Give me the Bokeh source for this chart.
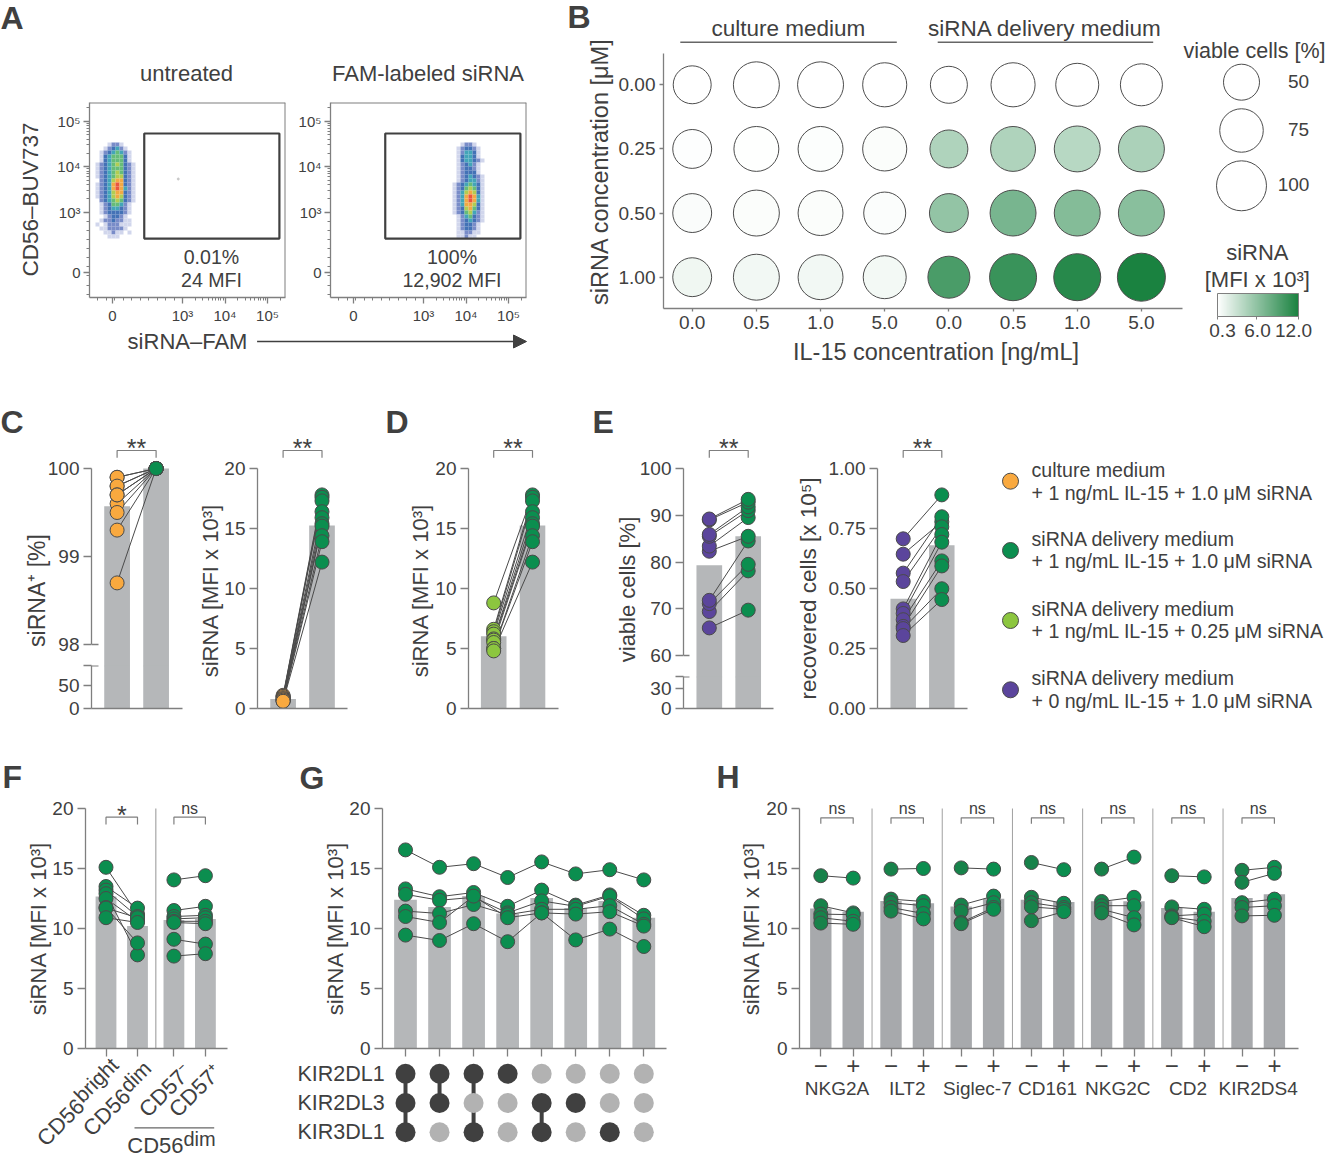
"""
Multi-panel siRNA uptake figure (A-H) drawn with Bokeh.
Each panel is its own figure, pinned on the page by the pixel position of its frame.
"""

from math import log10, sqrt

from bokeh.core.properties import value
from bokeh.embed import file_html
from bokeh.layouts import column
from bokeh.models import (Arrow, ColorBar, ColumnDataSource, FixedTicker, Label,
                          LinearColorMapper, NormalHead, Range1d)
from bokeh.plotting import figure
from bokeh.resources import INLINE
from bokeh.transform import transform

# ---- panel A: flow plots, density (0 = empty, 8 = densest)
flow_ticks = [1.68, 3, 4, 5]
flow_tick_labels = ["0", "10³", "10⁴", "10⁵"]
flow_x_ticks = [1.35, 3, 4, 5]
untreated_density = [
    "0001221000", "0012342100", "0123454210", "0134555310", "0134555310", "1234565321",
    "1234555321", "1234565321", "1234566321", "0234677321", "1234787321", "1234787421",
    "1234677321", "1234676321", "0234565321", "0123554210", "0123443210", "0123333210",
    "0012332100", "0122322110", "1012221110", "0112222100", "0011211010", "0001110000",
]
fam_density = [
    "0001221000", "0012332100", "0012443100", "0013443100", "0013443210", "0012342100",
    "0012332100", "0012333100", "0012343210", "0012344210", "0123454310", "0123565310",
    "0124676310", "0124787410", "0124787410", "0124776310", "0123675310", "0123564210",
    "0012453210", "0012343210", "0012332100", "0012332100", "0011221100", "0011211000",
]
density_colors = [None, "#ccd2ea", "#6a80c2", "#2f63ae", "#2f9bb0", "#55b56a", "#a8c83f", "#f0a030", "#e8432a"]

# ---- panel B
il15_labels = ["0.0", "0.5", "1.0", "5.0", "0.0", "0.5", "1.0", "5.0"]
sirna_labels = ["0.00", "0.25", "0.50", "1.00"]
viable = [
    [56, 84, 84, 77, 53, 77, 73, 69.5],
    [59, 80, 80, 77, 56, 80, 84, 84],
    [59, 84, 80, 69.5, 59, 84, 84, 84],
    [59, 84, 80, 73, 69.5, 88, 88, 92],
]
mfi = [
    [0.3, 0.3, 0.3, 0.3, 0.3, 0.3, 0.3, 0.3],
    [0.4, 0.35, 0.45, 0.55, 4.4, 4.4, 4.0, 4.6],
    [0.6, 0.55, 0.55, 0.5, 5.8, 7.2, 6.6, 6.3],
    [1.1, 1.0, 1.0, 0.9, 9.5, 10.4, 11.3, 12.0],
]
viable_legend = [50, 75, 100]

# ---- panels C, D, E (paired donors)
c_pos_culture = [99.8, 99.6, 99.9, 99.9, 99.8, 99.7, 99.7, 99.5, 99.3, 98.7]
c_pos_delivery = [100.0] * 10
c_mfi_delivery = [17.8, 17.6, 17.3, 16.4, 15.9, 15.4, 15.2, 14.4, 13.9, 12.2]
c_mfi_culture = [1.1, 1.0, 1.0, 0.9, 0.8, 0.8, 0.7, 0.7, 0.6, 0.6]
d_low_sirna = [8.8, 6.6, 6.4, 6.2, 5.8, 5.7, 5.5, 5.0, 5.0, 4.8]
e_viable_il0 = [65.9, 69.4, 71.1, 71.8, 82.3, 83.4, 85.5, 85.9, 89.0, 89.2]
e_viable_il1 = [69.7, 78.1, 79.5, 84.5, 85.5, 89.5, 91.0, 91.8, 92.8, 93.4]
e_recovered_il0 = [0.707, 0.643, 0.564, 0.529, 0.415, 0.396, 0.37, 0.342, 0.333, 0.304]
e_recovered_il1 = [0.89, 0.778, 0.799, 0.757, 0.725, 0.693, 0.615, 0.594, 0.499, 0.454]
legend_labels = [
    ("culture medium", "+ 1 ng/mL IL-15 + 1.0 μM siRNA"),
    ("siRNA delivery medium", "+ 1 ng/mL IL-15 + 1.0 μM siRNA"),
    ("siRNA delivery medium", "+ 1 ng/mL IL-15 + 0.25 μM siRNA"),
    ("siRNA delivery medium", "+ 0 ng/mL IL-15 + 1.0 μM siRNA"),
]

# ---- panel F
f_bars = [12.67, 10.2, 10.7, 10.8]
f_bright = [15.1, 13.5, 13.2, 12.9, 12.5, 11.75, 11.7, 10.9]
f_dim = [11.2, 11.7, 11.0, 7.8, 10.6, 8.8, 10.9, 10.5]
f_cd57_neg = [14.05, 11.5, 11.0, 10.8, 10.6, 10.5, 9.1, 7.7]
f_cd57_pos = [14.4, 11.85, 11.1, 10.9, 10.6, 10.4, 8.7, 7.9]

# ---- panel G
g_bars = [12.4, 11.8, 12.7, 11.25, 12.55, 11.7, 12.3, 10.9]
g_donors = [
    [16.55, 15.1, 15.4, 14.25, 15.55, 14.55, 14.9, 14.05],
    [13.3, 12.65, 13.0, 11.85, 13.2, 11.95, 12.8, 11.1],
    [12.85, 12.35, 12.6, 11.3, 12.3, 11.85, 12.7, 10.8],
    [11.45, 11.25, 12.0, 11.15, 11.6, 11.6, 11.9, 10.35],
    [11.0, 10.5, 12.7, 10.9, 11.3, 11.2, 11.4, 10.2],
    [9.45, 9.0, 10.4, 8.9, 11.3, 9.05, 9.95, 8.5],
]
kir_names = ["KIR2DL1", "KIR2DL3", "KIR3DL1"]
kir_membership = [
    [1, 1, 1, 1, 0, 0, 0, 0],
    [1, 1, 0, 0, 1, 1, 0, 0],
    [1, 0, 1, 0, 1, 0, 1, 0],
]

# ---- panel H
h_groups = ["NKG2A", "ILT2", "Siglec-7", "CD161", "NKG2C", "CD2", "KIR2DS4"]
h_bars_neg = [11.67, 12.3, 11.83, 12.4, 12.27, 11.7, 12.55]
h_bars_pos = [11.4, 12.1, 12.47, 12.2, 12.27, 11.4, 12.85]
h_neg = [
    [14.4, 11.9, 11.2, 10.9, 10.45],
    [14.95, 12.45, 12.15, 11.75, 11.45],
    [15.05, 11.95, 11.45, 10.5, 10.4],
    [15.5, 12.6, 12.15, 11.8, 10.65],
    [14.95, 12.25, 11.9, 11.6, 11.3],
    [14.4, 11.8, 11.05, 10.95, 10.9],
    [14.85, 13.85, 12.15, 11.75, 11.05],
]
h_pos = [
    [14.2, 11.3, 11.15, 10.6, 10.35],
    [15.0, 12.25, 11.9, 11.25, 10.8],
    [14.95, 12.7, 12.15, 11.75, 11.6],
    [14.9, 12.1, 11.75, 11.6, 11.4],
    [15.95, 12.6, 11.9, 10.9, 10.3],
    [14.3, 11.6, 11.2, 10.6, 10.15],
    [15.1, 14.6, 12.45, 11.9, 11.1],
]

FONT = "Liberation Sans"
TEXT = "#404040"
AXIS = "#7f7f7f"
BAR = "#b5b7b9"
BAR_DARK = "#a7a9ac"
MARK_LINE = "#4a4a4a"
ORANGE = "#f9a93f"
GREEN = "#0b8e4f"
GREEN_H = "#17824a"
LIME = "#8cc63f"
PURPLE = "#5b459c"

panels = []


def panel(x0, x1, y0, y1, xcal, ycal, pad_left=70, pad_bottom=40):
    """Figure whose frame sits at page pixels x0..x1, y0..y1; xcal/ycal tie two pixels to two data values."""
    x0, x1, y0, y1 = round(x0), round(x1), round(y0), round(y1)
    pad_right, pad_top = 8, 6

    def solve(cal, a, b):
        (pa, va), (pb, vb) = cal
        k = (vb - va) / (pb - pa)
        return va + (a - pa) * k, va + (b - pa) * k

    xs, xe = solve(xcal, x0, x1)
    ys, ye = solve(ycal, y1, y0)
    p = figure(
        width=x1 - x0 + pad_left + pad_right, height=y1 - y0 + pad_top + pad_bottom,
        x_range=Range1d(xs, xe), y_range=Range1d(ys, ye),
        min_border_left=pad_left, min_border_right=pad_right,
        min_border_top=pad_top, min_border_bottom=pad_bottom,
        output_backend="svg", toolbar_location=None,
        background_fill_color=None, border_fill_color=None, outline_line_color=None,
        styles={"position": "absolute", "left": f"{x0 - pad_left}px", "top": f"{y0 - pad_top}px"},
    )
    p.grid.visible = False
    p.tags = [y0, y1]
    for ax in (p.xaxis[0], p.yaxis[0]):
        ax.axis_line_color = AXIS
        ax.axis_line_width = 1.3
        ax.major_tick_line_color = AXIS
        ax.major_tick_line_width = 1.3
        ax.major_tick_in = 0
        ax.major_tick_out = 8
        ax.minor_tick_in = 0
        ax.minor_tick_out = 0
        ax.major_label_text_font = FONT
        ax.major_label_text_color = TEXT
        ax.major_label_text_font_size = "19px"
        ax.major_label_standoff = 4
    p.xaxis[0].ticker = FixedTicker(ticks=[])
    panels.append(p)
    return p


def ypx(p, py):
    """Data value of page pixel row py in panel p."""
    y0, y1 = p.tags
    return p.y_range.end + (py - y0) * (p.y_range.start - p.y_range.end) / (y1 - y0)


def y_axis(p, ticks, top, bottom=0, labels=None):
    ax = p.yaxis[0]
    ax.ticker = FixedTicker(ticks=ticks)
    ax.bounds = (bottom, top)
    if labels:
        ax.major_label_overrides = labels


def blank_x_labels(p, ticks):
    p.xaxis[0].ticker = FixedTicker(ticks=ticks)
    p.xaxis[0].major_label_overrides = {t: "" for t in ticks}


def bars(p, xs, tops, width, color=BAR):
    p.vbar(x=xs, top=tops, bottom=0, width=width, fill_color=color, line_color=None)


def dots(p, xs, ys, color, size=14):
    p.scatter(xs, ys, size=size, fill_color=color, line_color=MARK_LINE, line_width=1)


def paired(p, xa, xb, a, b, color_a, color_b=GREEN, size=14):
    p.multi_line([[xa, xb] for _ in a], [[u, v] for u, v in zip(a, b)], line_color=MARK_LINE, line_width=1)
    dots(p, [xa] * len(a), a, color_a, size)
    dots(p, [xb] * len(b), b, color_b, size)


def bracket(p, xa, xb, text, py_top, py_bot, py_text, size):
    top, bot = ypx(p, py_top), ypx(p, py_bot)
    p.line([xa, xa, xb, xb], [bot, top, top, bot], line_color=AXIS, line_width=1.2)
    p.text([(xa + xb) / 2], [ypx(p, py_text)], text=[text], text_font=value(FONT), text_color=TEXT,
           text_font_size=value(size), text_align="center", text_baseline="middle")


def stars(p, xa, xb, text="**"):
    bracket(p, xa, xb, text, 450, 457.3, 447, "25px")


# ---- panel A
def flow_panel(x0, density, grid_x0, gate_x0=2.10):
    p = panel(x0, x0 + 196, 101.7, 297.3, ((x0 + 93, 3), (x0 + 178, 5)), ((211.7, 3), (120.7, 5)))
    outline_x = [p.x_range.start, p.x_range.end]
    minor = [d + log10(m) for d in (3, 4, 5) for m in range(2, 10) if d + log10(m) < 5.4]
    minor_low = [1.0 + i * 0.2 for i in range(10)]
    for ax, ticks, labels in ((p.xaxis[0], flow_x_ticks, flow_tick_labels), (p.yaxis[0], flow_ticks, flow_tick_labels)):
        ax.ticker = FixedTicker(ticks=ticks, minor_ticks=minor + minor_low)
        ax.major_label_overrides = dict(zip(ticks, labels))
        ax.major_tick_out = 6
        ax.minor_tick_out = 3
        ax.minor_tick_line_color = AXIS
        ax.major_label_text_font_size = "15px"
        ax.major_label_standoff = 3
    p.line(outline_x, [p.y_range.end] * 2, line_color=AXIS, line_width=2)
    p.line([p.x_range.end] * 2, [p.y_range.start, p.y_range.end], line_color=AXIS, line_width=2)
    cell_x, cell_y = 4 / 42.5, 4 / 45.5
    left, right, top, bottom, color = [], [], [], [], []
    for r, row in enumerate(density):
        for c, level in enumerate(row):
            if level != "0":
                left.append(grid_x0 + c * cell_x)
                right.append(grid_x0 + (c + 1) * cell_x)
                top.append(4.532 - r * cell_y)
                bottom.append(4.532 - (r + 1) * cell_y)
                color.append(density_colors[int(level)])
    p.quad(left=left, right=right, top=top, bottom=bottom, fill_color=color, line_color=None, fill_alpha=0.9)
    p.quad(left=[gate_x0], right=[5.28], top=[4.73], bottom=[2.42], fill_color=None,
           line_color="#404040", line_width=2.2)
    return p


a1 = flow_panel(89, untreated_density, 0.953)
a1.scatter([2.9], [3.73], size=2, color="#c8c8c8")
a2 = flow_panel(330, fam_density, 3.588)

# ---- panel B
b = panel(662.6, 1182, 53, 308, ((691.7, 0), (1140.9, 7)), ((84.3, 0), (276.7, 3)))
green_ramp = []
for i in range(256):
    f = i / 255
    green_ramp.append("#%02x%02x%02x" % (round(255 + (26 - 255) * f), round(255 + (130 - 255) * f), round(255 + (64 - 255) * f)))
mfi_mapper = LinearColorMapper(palette=green_ramp, low=0.3, high=12)


def viable_size(v):
    return sqrt(96 + 24 * v)


b_source = ColumnDataSource(data={
    "col": [c for _ in sirna_labels for c in range(8)],
    "row": [3 - r for r in range(4) for _ in range(8)],
    "size": [viable_size(v) for row in viable for v in row],
    "mfi": [m for row in mfi for m in row],
})
b.y_range.start, b.y_range.end = 3 - b.y_range.start, 3 - b.y_range.end
b.scatter("col", "row", size="size", source=b_source, fill_color=transform("mfi", mfi_mapper),
          line_color="#4d4d4d", line_width=1)
b.xaxis[0].ticker = FixedTicker(ticks=list(range(8)))
b.xaxis[0].major_label_overrides = dict(enumerate(il15_labels))
b.xaxis[0].major_tick_out = 3
b.yaxis[0].ticker = FixedTicker(ticks=list(range(4)))
b.yaxis[0].major_label_overrides = {3 - i: s for i, s in enumerate(sirna_labels)}
b.yaxis[0].major_tick_out = 4

cb_fig = panel(1217, 1298, 293, 316, ((1217, 0), (1298, 1)), ((293, 1), (316, 0)))
cb_fig.xaxis.visible = False
cb_fig.yaxis.visible = False
color_bar = ColorBar(color_mapper=mfi_mapper, ticker=FixedTicker(ticks=[0.3, 6, 12]),
                     major_label_overrides={0.3: "", 6: "", 12: ""},
                     major_label_text_font=FONT, major_label_text_font_size="19px",
                     major_label_text_color=TEXT, major_tick_line_color=AXIS, major_tick_in=0, major_tick_out=3,
                     bar_line_color=AXIS, label_standoff=0, padding=0, margin=0, width=81, height=23,
                     background_fill_color=None, border_line_color=None,
                     orientation="horizontal", location="top_left")
cb_fig.add_layout(color_bar, "center")

# ---- panel C, left one has a broken axis
c_x = ((116.6, 0), (155.6, 1))
c_tops = [99.57, 100]
c1_top = panel(90.6, 181.6, 430, 666, c_x, ((468, 100), (644, 98)))
y_axis(c1_top, [98, 99, 100], 100, bottom=98)
bars(c1_top, [0, 1], c_tops, 0.66)
c1_top.segment([c1_top.x_range.start], [98], [c1_top.x_range.start + 7 / 39], [98], line_color=AXIS, line_width=1.3)
c1_top.xaxis.visible = False
paired(c1_top, 0, 1, c_pos_culture, c_pos_delivery, ORANGE)
stars(c1_top, 0, 1)
c1_bot = panel(90.6, 181.6, 665, 708, c_x, ((708, 0), (685, 50)))
c1_break = c1_bot.y_range.end
y_axis(c1_bot, [0, 50, c1_break], c1_break, labels={c1_break: ""})
bars(c1_bot, [0, 1], c_tops, 0.66)
c1_bot.segment([c1_bot.x_range.start], [c1_break], [c1_bot.x_range.start + 7 / 39], [c1_break],
               line_color=AXIS, line_width=2)

mfi_y = ((708, 0), (468, 20))
c2 = panel(256.8, 347, 430, 708, ((282.6, 0), (321.5, 1)), mfi_y)
y_axis(c2, [0, 5, 10, 15, 20], 20)
bars(c2, [0, 1], [0.8, 15.25], 0.66)
paired(c2, 0, 1, c_mfi_culture, c_mfi_delivery, ORANGE)
stars(c2, 0, 1)

d = panel(468, 558, 430, 708, ((493.2, 0), (532, 1)), mfi_y)
y_axis(d, [0, 5, 10, 15, 20], 20)
bars(d, [0, 1], [6.03, 15.25], 0.66)
paired(d, 0, 1, d_low_sirna, c_mfi_delivery, LIME)
stars(d, 0, 1)

# ---- panel E, left one has a broken axis as well
e_x = ((708.8, 0), (747.7, 1))
e_tops = [79.3, 85.5]
e1_top = panel(683.3, 773.3, 430, 677, e_x, ((468, 100), (655, 60)))
y_axis(e1_top, [60, 70, 80, 90, 100], 100, bottom=60)
bars(e1_top, [0, 1], e_tops, 0.66)
e1_top.segment([e1_top.x_range.start], [60], [e1_top.x_range.start + 6 / 39], [60], line_color=AXIS, line_width=1.3)
e1_top.xaxis.visible = False
paired(e1_top, 0, 1, e_viable_il0, e_viable_il1, PURPLE)
stars(e1_top, 0, 1)
e1_bot = panel(683.3, 773.3, 676, 708, e_x, ((708, 0), (688, 30)))
e1_break = e1_bot.y_range.end
y_axis(e1_bot, [0, 30, e1_break], e1_break, labels={e1_break: ""})
bars(e1_bot, [0, 1], e_tops, 0.66)
e1_bot.segment([e1_bot.x_range.start], [e1_break], [e1_bot.x_range.start + 6 / 39], [e1_break],
               line_color=AXIS, line_width=2)

e2 = panel(877, 967, 430, 708, ((902.7, 0), (941.3, 1)), ((708, 0), (468, 1)))
y_axis(e2, [0, 0.25, 0.5, 0.75, 1], 1, labels={0: "0.00", 0.25: "0.25", 0.5: "0.50", 0.75: "0.75", 1: "1.00"})
bars(e2, [0, 1], [0.457, 0.68], 0.66)
paired(e2, 0, 1, e_recovered_il0, e_recovered_il1, PURPLE)
stars(e2, 0, 1)

# ---- panel F
f_xs = [0, 1, 2.156, 3.156]
lower_y = ((1048, 0), (808, 20))
f = panel(85, 226.7, 785, 1048, ((105.5, 0), (137, 1)), lower_y, pad_bottom=20)
y_axis(f, [0, 5, 10, 15, 20], 20)
blank_x_labels(f, f_xs)
bars(f, f_xs, f_bars, 0.66)
f.segment([1.58], [0], [1.58], [20], line_color="#b8b8b8", line_width=1.5)
paired(f, 0, 1, f_bright, f_dim, GREEN)
paired(f, 2.156, 3.156, f_cd57_neg, f_cd57_pos, GREEN)
bracket(f, 0, 1, "*", 816.7, 824, 814, "25px")
bracket(f, 2.156, 3.156, "ns", 816.7, 824, 807.7, "16px")

# ---- panel G, with the KIR combination matrix below it
g_xs = list(range(8))
g = panel(382.3, 666, 785, 1048, ((405, 0), (643.3, 7)), lower_y, pad_bottom=20)
y_axis(g, [0, 5, 10, 15, 20], 20)
blank_x_labels(g, g_xs)
bars(g, g_xs, g_bars, 0.667)
g.multi_line([g_xs for _ in g_donors], g_donors, line_color=MARK_LINE, line_width=1)
for donor in g_donors:
    dots(g, g_xs, donor, GREEN)

matrix = panel(382.3, 666, 1056, 1148, ((405, 0), (643.3, 7)), ((1073.3, 2), (1131.7, 0)), pad_bottom=6)
matrix.xaxis.visible = False
matrix.yaxis.visible = False
for col in g_xs:
    rows = [r for r in range(3) if kir_membership[r][col]]
    if len(rows) > 1:
        matrix.line([col, col], [2 - min(rows), 2 - max(rows)], line_color="#404040", line_width=4)
for r, row in enumerate(kir_membership):
    matrix.scatter(g_xs, [2 - r] * 8, size=20, line_color=None,
                   fill_color=["#404040" if m else "#b2b2b2" for m in row])

# ---- panel H
h = panel(799, 1297.6, 785, 1048, ((820.3, 0), (852.7, 1)), lower_y)
y_axis(h, [0, 5, 10, 15, 20], 20)
h_step = 70.2 / 32.4
h_ticks = [v for i in range(7) for v in (i * h_step, i * h_step + 1)]
h.xaxis[0].ticker = FixedTicker(ticks=h_ticks)
h.xaxis[0].major_label_overrides = {v: ("−" if n % 2 == 0 else "+") for n, v in enumerate(h_ticks)}
h.xaxis[0].major_label_text_font_size = "24px"
h.xaxis[0].major_label_standoff = 0
bars(h, h_ticks, [v for pair in zip(h_bars_neg, h_bars_pos) for v in pair], 0.66, BAR_DARK)
for i in range(7):
    x = i * h_step
    if i:
        h.segment([x - 0.585], [0], [x - 0.585], [20], line_color="#a0a0a0", line_width=1)
    paired(h, x, x + 1, h_neg[i], h_pos[i], GREEN_H)
    bracket(h, x, x + 1, "ns", 817.3, 823.3, 807.7, "16px")

# ---- free text, legends and everything else that is laid out by page pixels
# the frame of this figure comes out 1317x1145 whatever its canvas, so the ranges follow that
page = figure(width=1317, height=1145, x_range=Range1d(0, 1317), y_range=Range1d(1145, 0),
              x_axis_location=None, y_axis_location=None,
              min_border_left=0, min_border_right=0, min_border_top=0, min_border_bottom=0,
              output_backend="svg", toolbar_location=None,
              background_fill_color=None, border_fill_color=None, outline_line_color=None)
page.grid.visible = False

# that canvas stops short of the right and bottom edges, so two small figures carry the text out there
# labels get cut at the frame, so these frames have to span all the text they hold
same_x = ((0, 0), (1333, 1333))
same_y = ((0, 0), (1161, 1161))
edge_right = panel(1030, 1325, 30, 720, same_x, same_y, pad_bottom=5)
edge_bottom = panel(25, 260, 1055, 1153, same_x, same_y, pad_bottom=8)
for edge in (edge_right, edge_bottom):
    edge.xaxis.visible = False
    edge.yaxis.visible = False


def txt(x, y, text, size=20, align="center", baseline="middle", angle=0, style="normal", fig=page):
    fig.add_layout(Label(x=x, y=y, text=text, text_font=FONT, text_font_size=f"{size}px", text_color=TEXT,
                         text_align=align, text_baseline=baseline, angle=angle, angle_units="deg",
                         text_font_style=style))


for letter, x, y in (("A", 0, 17), ("B", 567, 16), ("C", 0, 421), ("D", 385, 421), ("E", 592, 421),
                     ("F", 2, 776), ("G", 299, 777), ("H", 716, 776)):
    txt(x, y, letter, 32, align="left", style="bold")

# panel A
txt(186, 73.3, "untreated", 22)
txt(427.5, 73.3, "FAM-labeled siRNA", 22)
txt(30, 199, "CD56–BUV737", 22.5, angle=90)
txt(187, 340.7, "siRNA–FAM", 22)
txt(211, 256.7, "0.01%", 19.6)
txt(211, 279.3, "24 MFI", 19.6)
txt(451.5, 256.7, "100%", 19.6)
txt(451.5, 279.3, "12,902 MFI", 19.6)
page.add_layout(Arrow(x_start=256.6, y_start=341, x_end=526, y_end=341, line_color=TEXT, line_width=1.6,
                      end=NormalHead(size=13, fill_color=TEXT, line_color=TEXT)))

# panel B
txt(787.8, 28.3, "culture medium", 22.5)
txt(1044.5, 28.3, "siRNA delivery medium", 22.5)
page.line([679.8, 896.3], [41.7, 41.7], line_color="#666666", line_width=1.4)
page.line([937.2, 1152.7], [41.7, 41.7], line_color="#666666", line_width=1.4)
txt(599, 171, "siRNA concentration [μM]", 23.5, angle=90)
txt(935.5, 351.7, "IL-15 concentration [ng/mL]", 23.5)
txt(1254, 50.7, "viable cells [%]", 21.5, fig=edge_right)
page.scatter([1241, 1241, 1241], [81.7, 130, 185.3], size=[viable_size(v) for v in viable_legend],
             fill_color="white", line_color="#4d4d4d", line_width=1)
for v, x, y in zip(viable_legend, (1298, 1298, 1293), (80.7, 129.3, 184.3)):
    txt(x, y, str(v), 19)
txt(1256.8, 252.3, "siRNA", 22)
txt(1256.8, 279.3, "[MFI x 10³]", 22)
for s, x in (("0.3", 1222), ("6.0", 1257), ("12.0", 1293)):
    txt(x, 330, s, 19)

# y labels of C-H
txt(36.5, 590, "siRNA⁺ [%]", 23, angle=90)
txt(210, 590, "siRNA [MFI x 10³]", 22, angle=90)
txt(420, 590, "siRNA [MFI x 10³]", 22, angle=90)
txt(626.7, 589, "viable cells [%]", 22, angle=90)
txt(808, 588, "recovered cells [x 10⁵]", 22.5, angle=90)
txt(38, 928, "siRNA [MFI x 10³]", 22, angle=90)
txt(335, 928, "siRNA [MFI x 10³]", 22, angle=90)
txt(750.7, 928, "siRNA [MFI x 10³]", 22, angle=90)

# legend of C-E
for (line1, line2), color, y1, y2, ym in zip(legend_labels, (ORANGE, GREEN, LIME, PURPLE),
                                             (469, 538.3, 608, 677.7), (492.3, 560.7, 630, 700),
                                             (480.7, 550, 620, 689.3)):
    page.scatter([1010], [ym], size=16, fill_color=color, line_color=MARK_LINE, line_width=1)
    txt(1031, y1, line1, 19.6, align="left", fig=edge_right)
    txt(1031, y2, line2, 19.6, align="left", fig=edge_right)

# tick labels of F
for text, sup, x, y in (("CD56", "bright", 80, 1102), ("CD56", "dim", 126, 1092)):
    txt(x, y, text, 22, align="right", angle=45, fig=edge_bottom)
    txt(x - 3, y - 4, sup, 21, align="left", angle=45, fig=edge_bottom)
txt(187, 1068, "CD57⁻", 22, align="right", angle=45)
txt(217, 1068, "CD57⁺", 22, align="right", angle=45)
page.line([134, 213.7], [1127.3, 1127.3], line_color="#666666", line_width=1.2)
txt(183, 1145, "CD56", 22, align="right", fig=edge_bottom)
txt(183, 1138, "dim", 20, align="left", fig=edge_bottom)

# row labels of the G matrix
for name, y in zip(kir_names, (1073.3, 1102, 1131.7)):
    txt(297, y, name, 21.5, align="left")

# group names of H
for i, name in enumerate(h_groups):
    txt(836.5 + i * 70.2, 1088, name, 19)

# the page figure goes in its own column so that the panel column does not line up its frame with theirs
page_box = column(page, width=1317, height=1145, styles={"position": "absolute", "left": "0px", "top": "0px"})
root = column(column(*panels, width=1317, height=1145), page_box, width=1317, height=1145)
open("out.html", "w").write(file_html(root, INLINE))
